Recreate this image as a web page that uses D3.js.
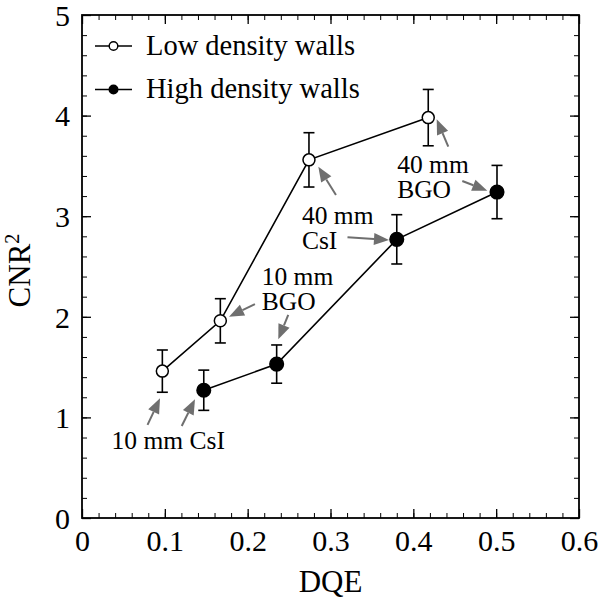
<!DOCTYPE html>
<html>
<head>
<meta charset="utf-8">
<script src="https://cdn.jsdelivr.net/npm/d3@7"></script>
<style>
  html, body { margin: 0; padding: 0; background: #fff; }
  svg { display: block; }
  text { font-family: "Liberation Serif", "Times New Roman", serif; fill: #000; }
</style>
</head>
<body>
<svg id="chart" width="600" height="599"></svg>
<script>
// ---- data ----
const lowDQE   = [0.097, 0.167, 0.274, 0.418];
const lowCNR2  = [1.46, 1.96, 3.56, 3.98];
const lowErr   = [0.21, 0.22, 0.27, 0.28];

const highDQE  = [0.147, 0.235, 0.380, 0.501];
const highCNR2 = [1.27, 1.53, 2.77, 3.24];
const highErr  = [0.20, 0.19, 0.245, 0.265];

const seriesNames = ["Low density walls", "High density walls"];
const xTicks = [0, 0.1, 0.2, 0.3, 0.4, 0.5, 0.6];
const yTicks = [0, 1, 2, 3, 4, 5];
const xLabel = "DQE";
const yLabel = "CNR";

// annotation texts (lines) and arrows in data units: [tailX, tailY, tipX, tipY]
const annoTexts = [
  { lines: ["10 mm CsI"], x: 0.0357, y: 0.69 },
  { lines: ["10 mm", "BGO"], x: 0.217, y: 2.32 },
  { lines: ["40 mm", "CsI"], x: 0.2655, y: 2.92 },
  { lines: ["40 mm", "BGO"], x: 0.3805, y: 3.43 }
];
const annoArrows = [
  [0.0791, 0.925, 0.0942, 1.190],
  [0.1204, 0.915, 0.1364, 1.180],
  [0.2088, 2.127, 0.1775, 2.001],
  [0.2490, 2.018, 0.2370, 1.776],
  [0.3066, 3.211, 0.2853, 3.492],
  [0.3205, 2.790, 0.3706, 2.763],
  [0.4422, 3.691, 0.4282, 3.963],
  [0.4591, 3.350, 0.4893, 3.254]
];

// ---- layout ----
const L = 82, R = 579, T = 15, B = 518;
const svg = d3.select("#chart");
const x = d3.scaleLinear().domain([0, 0.6]).range([L, R]);
const y = d3.scaleLinear().domain([0, 5]).range([B, T]);

const xMinor = d3.range(0, 0.6001, 0.02);
const yMinor = d3.range(0, 5.001, 0.2);

// axes with inward ticks
function tickAxis(axisFn, scale, major, minor, transform, fmt) {
  const gMinor = svg.append("g").attr("transform", transform)
    .call(axisFn(scale).tickValues(minor).tickSize(-5).tickFormat(""));
  gMinor.select(".domain").remove();
  gMinor.selectAll("line").attr("stroke", "#000").attr("stroke-width", 1);
  const g = svg.append("g").attr("transform", transform)
    .call(axisFn(scale).tickValues(major).tickSize(-9).tickFormat(fmt || ""));
  g.select(".domain").remove();
  g.selectAll("line").attr("stroke", "#000").attr("stroke-width", 1.3);
  return g;
}
const fmtX = d => d === 0 ? "0" : d3.format(".1f")(d);
const gx = tickAxis(d3.axisBottom, x, xTicks, xMinor, `translate(0,${B})`, fmtX);
gx.selectAll("text").attr("font-size", 30).attr("y", 12).attr("dy", "0.71em")
  .attr("font-family", "Liberation Serif");
tickAxis(d3.axisTop, x, xTicks, xMinor, `translate(0,${T})`);
const gy = tickAxis(d3.axisLeft, y, yTicks, yMinor, `translate(${L},0)`, d => d);
gy.selectAll("text").attr("font-size", 30).attr("x", -12).attr("dy", "0.34em")
  .attr("font-family", "Liberation Serif");
tickAxis(d3.axisRight, y, yTicks, yMinor, `translate(${R},0)`);

// frame
svg.append("rect").attr("x", L).attr("y", T).attr("width", R - L).attr("height", B - T)
  .attr("fill", "none").attr("stroke", "#000").attr("stroke-width", 1.8);

// axis titles
svg.append("text").attr("x", (L + R) / 2).attr("y", 592).attr("text-anchor", "middle")
  .attr("font-size", 31).text(xLabel);
const yt = svg.append("text").attr("transform", `translate(30,${(T + B) / 2 + 4}) rotate(-90)`)
  .attr("text-anchor", "middle").attr("font-size", 31);
yt.append("tspan").text(yLabel);
yt.append("tspan").attr("font-size", 20).attr("dy", -11).text("2");

// annotations
const gray = "#6f6f6f";
annoTexts.forEach(a => {
  a.lines.forEach((ln, i) => {
    svg.append("text").attr("font-size", 25.5)
      .attr("x", x(a.x)).attr("y", y(a.y) + i * 25).text(ln);
  });
});
annoArrows.forEach(([tx, ty, hx, hy]) => {
  const x1 = x(tx), y1 = y(ty), x2 = x(hx), y2 = y(hy);
  const ang = Math.atan2(y2 - y1, x2 - x1);
  const hl = 15, hw = 6;
  const bx = x2 - hl * Math.cos(ang), by = y2 - hl * Math.sin(ang);
  svg.append("line").attr("x1", x1).attr("y1", y1).attr("x2", bx).attr("y2", by)
    .attr("stroke", gray).attr("stroke-width", 2);
  const px = -Math.sin(ang) * hw, py = Math.cos(ang) * hw;
  svg.append("path")
    .attr("d", `M${x2},${y2}L${bx + px},${by + py}L${bx - px},${by - py}Z`)
    .attr("fill", gray);
});

// series
function drawSeries(xs, ys, es, filled) {
  const pts = xs.map((d, i) => ({ x: d, y: ys[i], e: es[i] }));
  const g = svg.append("g");
  g.append("path").datum(pts)
    .attr("d", d3.line().x(d => x(d.x)).y(d => y(d.y)))
    .attr("fill", "none").attr("stroke", "#000").attr("stroke-width", 1.6);
  const eb = g.selectAll(".eb").data(pts).enter().append("g");
  eb.append("line").attr("x1", d => x(d.x)).attr("x2", d => x(d.x))
    .attr("y1", d => y(d.y - d.e)).attr("y2", d => y(d.y + d.e))
    .attr("stroke", "#000").attr("stroke-width", 1.6);
  [1, -1].forEach(s => {
    eb.append("line").attr("x1", d => x(d.x) - 5.5).attr("x2", d => x(d.x) + 5.5)
      .attr("y1", d => y(d.y + s * d.e)).attr("y2", d => y(d.y + s * d.e))
      .attr("stroke", "#000").attr("stroke-width", 1.6);
  });
  g.selectAll(".pt").data(pts).enter().append("circle")
    .attr("cx", d => x(d.x)).attr("cy", d => y(d.y))
    .attr("r", filled ? 6.8 : 6)
    .attr("fill", filled ? "#000" : "#fff")
    .attr("stroke", "#000").attr("stroke-width", 1.5);
}
drawSeries(lowDQE, lowCNR2, lowErr, false);
drawSeries(highDQE, highCNR2, highErr, true);

// legend
const legY = [46, 89.5];
seriesNames.forEach((name, i) => {
  const g = svg.append("g");
  g.append("line").attr("x1", 95).attr("x2", 132).attr("y1", legY[i]).attr("y2", legY[i])
    .attr("stroke", "#000").attr("stroke-width", 1.6);
  g.append("circle").attr("cx", 113.5).attr("cy", legY[i]).attr("r", 4.3)
    .attr("fill", i === 0 ? "#fff" : "#000").attr("stroke", "#000").attr("stroke-width", 1.4);
  g.append("text").attr("x", 146).attr("y", legY[i] + 8.5).attr("font-size", 28.5).text(name);
});
</script>
</body>
</html>
